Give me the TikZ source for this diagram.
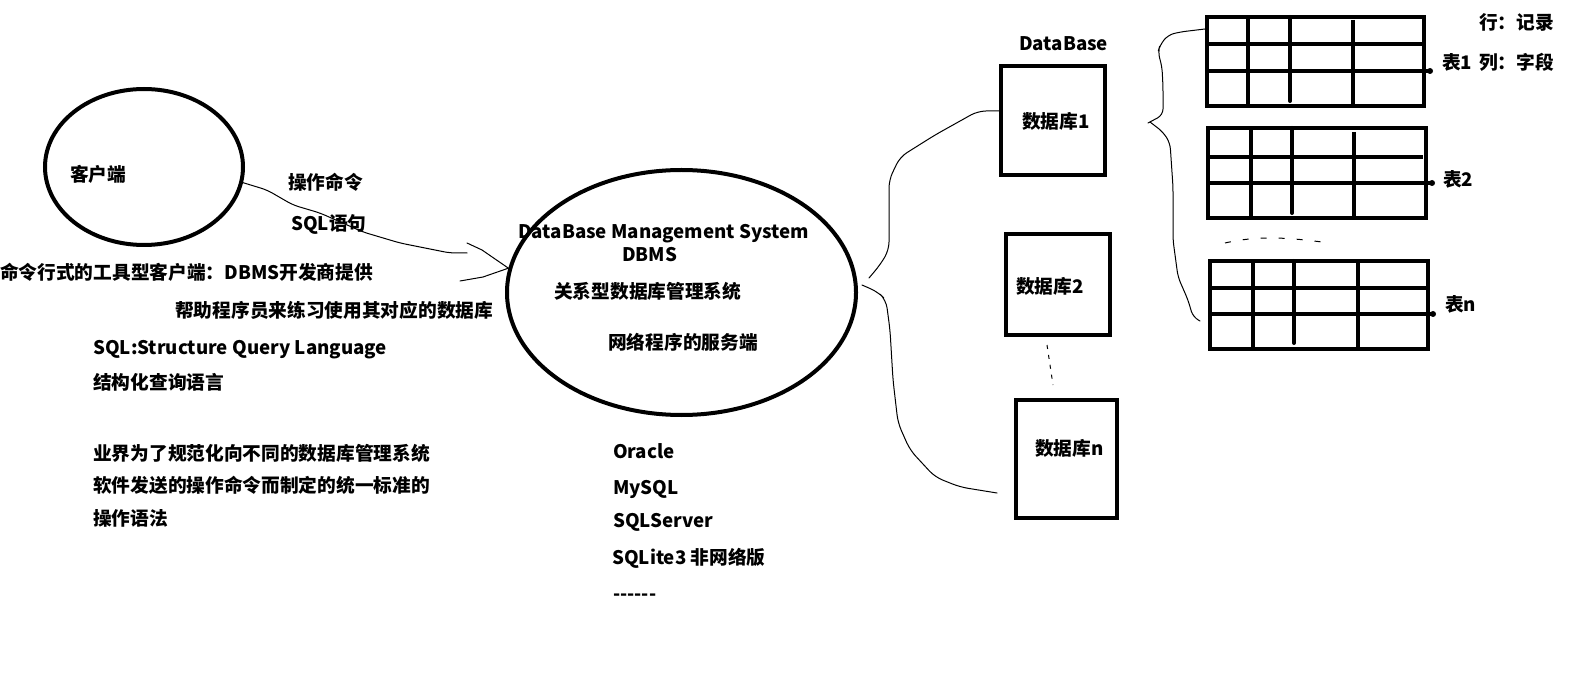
\documentclass[tikz,border=0pt]{standalone}
\usepackage{fontspec}
\setmainfont{Noto Sans CJK SC}
\usetikzlibrary{shapes.geometric}
\tikzset{
  txt/.style={anchor=base west, inner sep=0pt, font=\fontsize{18.7}{22}\selectfont\bfseries},
  thinline/.style={line width=1pt, line join=round, line cap=round},
  heavy/.style={line width=4pt},
  oval/.style={draw, ellipse, line width=4pt, inner sep=0pt},
  dbbox/.style={draw, rectangle, line width=4pt, inner sep=0pt},
  tbl/.style={draw, rectangle, line width=4pt, inner sep=0pt},
}
\begin{document}
\begin{tikzpicture}[x=1pt,y=-1pt]
\useasboundingbox[fill=white] (0,0) rectangle (1578,692);

% client
\node[oval, minimum width=198pt, minimum height=156pt] (client) at (144,167) {};
\node[txt] (clientlbl) at (70,182) {客户端};

% DBMS
\node[oval, minimum width=349pt, minimum height=245pt] (dbms) at (681.5,292.5) {};
\node[txt] (dbmsen) at (518,239) {DataBase Management System};
\node[txt] (dbmsab) at (622,262) {DBMS};
\node[txt] (dbmscn) at (554,299) {关系型数据库管理系统};
\node[txt] (dbmssv) at (608,349) {网络程序的服务端};

% client -> dbms
\coordinate (shaftend) at (467,253);
\draw[thinline, rounded corners=6pt] (client.-9) -- (267,190) -- (293,205) -- (320,213) -- (363,232) -- (400,243) -- (450,253) -- (shaftend);
\coordinate (ah1) at (467,243);
\coordinate (ah2) at (460,281);
\draw[thinline] (ah1) -- (482,250) -- (dbms.172);
\draw[thinline] (ah2) -- (483,277) -- (dbms.172);
\node[txt] (cmd) at (288,190) {操作命令};
\node[txt] (sqlstmt) at (291,231) {SQL语句};

\node[txt] (tool1) at (0,280) {命令行式的工具型客户端：DBMS开发商提供};
\node[txt] (tool2) at (175,317) {帮助程序员来练习使用其对应的数据库};

\node[txt] (sql1) at (93,354) {SQL:Structure Query Language};
\node[txt] (sql2) at (93,389) {结构化查询语言};
\node[txt] (std1) at (93,460) {业界为了规范化向不同的数据库管理系统};
\node[txt] (std2) at (93,492) {软件发送的操作命令而制定的统一标准的};
\node[txt] (std3) at (93,525) {操作语法};

\node[txt] (p1) at (613,458) {Oracle};
\node[txt] (p2) at (613,494) {MySQL};
\node[txt] (p3) at (613,527) {SQLServer};
\node[txt] (p4) at (612,564) {SQLite3 非网络版};
\node[txt] (p5) at (613,600) {-{}-{}-{}-{}-{}-};

% databases
\node[txt] (dblbl) at (1019,51) {DataBase};
\node[dbbox, minimum width=104pt, minimum height=109pt] (box1) at (1053,120.5) {};
\node[dbbox, minimum width=104pt, minimum height=101pt] (box2) at (1058,284.5) {};
\node[dbbox, minimum width=101pt, minimum height=118pt] (boxn) at (1066.5,459) {};
\node[txt] (b1lbl) at (1022,129) {数据库1};
\node[txt] (b2lbl) at (1016,294) {数据库2};
\node[txt] (bnlbl) at (1035,455) {数据库n};
\draw[line width=1pt, dash pattern=on 4pt off 6pt] (1047,345) -- (1053,385);

% brace dbms -> databases
\coordinate (bt1) at (869,278);
\coordinate (bt2) at (862,285);
\coordinate (bend) at (997,493);
\draw[thinline, rounded corners=8pt] (bt1) -- (880,265) -- (889,250) -- (889,180) -- (900,157) -- (935,135) -- (978,111) -- ([yshift=9.5pt]box1.west);
\draw[thinline, rounded corners=8pt] (bt2) -- (878,292) -- (886,300) -- (890,330) -- (893,380) -- (898,423) -- (910,450) -- (935,477) -- (960,487) -- (bend);

% tables
\node[tbl, minimum width=217pt, minimum height=89pt] (t1) at (1315.5,61.5) {};
\node[tbl, minimum width=218pt, minimum height=90pt] (t2) at (1317,173) {};
\node[tbl, minimum width=218pt, minimum height=88pt] (tn) at (1319,305) {};

\draw[heavy] (1207,44) -- (1422,44);
\draw[heavy] (1207,71) -- (1430,71);
\fill (1430,71) circle (3);
\draw[heavy] (1248,17) -- (1248,106);
\draw[heavy, line cap=round] (1290,17) -- (1290,101);
\draw[heavy] (1353,20) -- (1353,106);

\draw[heavy] (1208,157) -- (1423,157);
\draw[heavy] (1208,183) -- (1432,183);
\fill (1432,183) circle (3);
\draw[heavy] (1251,128) -- (1251,218);
\draw[heavy, line cap=round] (1292,128) -- (1292,213);
\draw[heavy] (1354,132) -- (1354,218);

\draw[heavy] (1210,288) -- (1426,288);
\draw[heavy] (1210,314) -- (1433,314);
\fill (1433,314) circle (3);
\draw[heavy] (1253,261) -- (1253,349);
\draw[heavy, line cap=round] (1294,261) -- (1294,343);
\draw[heavy] (1358,263) -- (1358,349);

\node[txt] (t1lbl) at (1442,70) {表1};
\node[txt] (t2lbl) at (1443,187) {表2};
\node[txt] (tnlbl) at (1445,312) {表n};
\node[txt] (rowlbl) at (1479,30) {行：记录};
\node[txt] (collbl) at (1479,70) {列：字段};

\draw[line width=1pt, dash pattern=on 6pt off 12pt] (1225,243) .. controls (1260,235) and (1290,238) .. (1322,242);

% brace databases -> tables
\coordinate (tbend) at (1200,321);
\draw[thinline, rounded corners=6pt] ([yshift=32.5pt]t1.west) -- (1180,32) -- (1168,35) -- (1160,45) -- (1158,52) -- (1162,67) -- (1163,87) -- (1163,115) -- (1148,123);
\draw[thinline, rounded corners=6pt] (1150,122) -- (1163,132) -- (1170,143) -- (1173,187) -- (1173,240) -- (1178,277) -- (1188,300) -- (1193,317) -- (tbend);
\end{tikzpicture}
\end{document}
